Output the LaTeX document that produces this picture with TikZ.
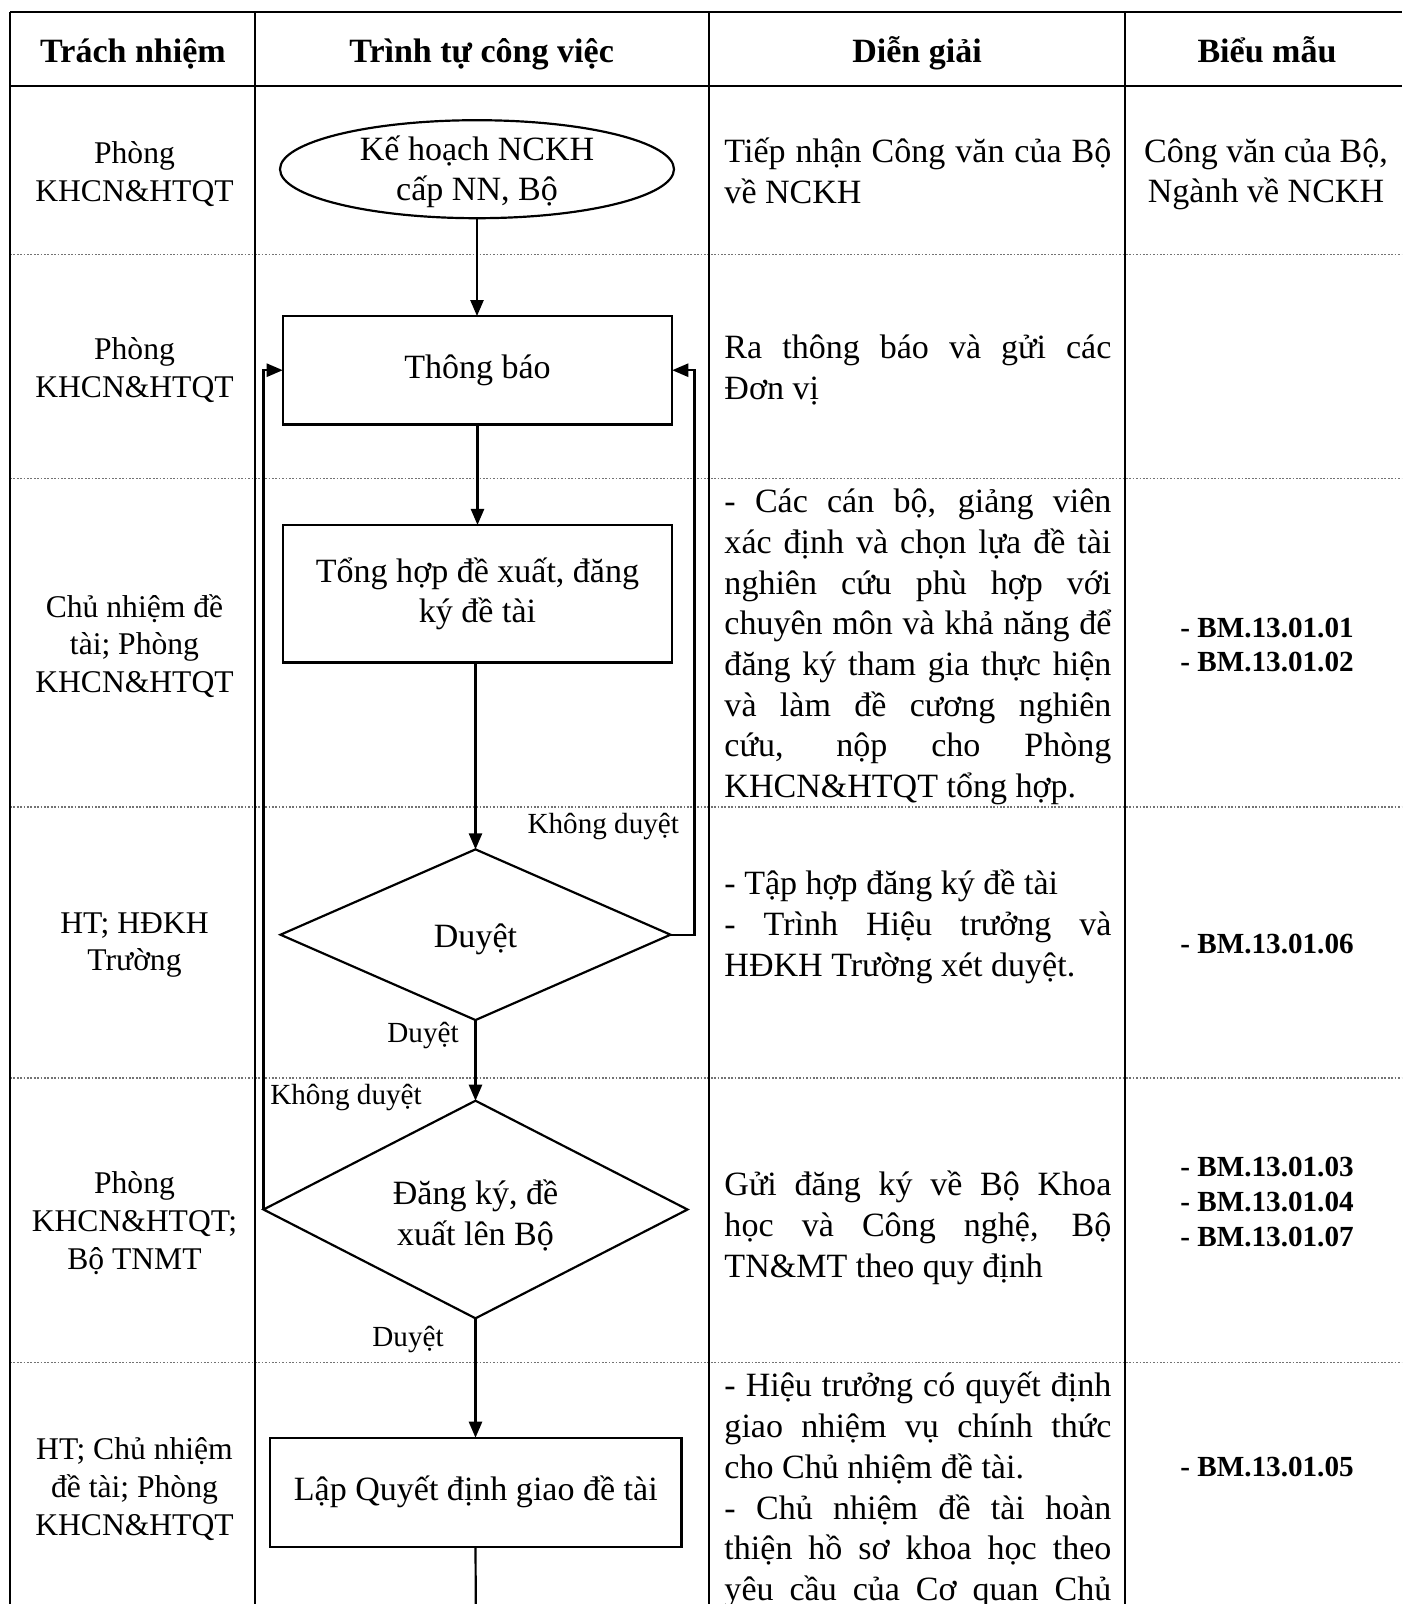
\documentclass[tikz,border=0pt]{standalone}
\usepackage{fontspec}
\setmainfont{Liberation Serif}
\usetikzlibrary{shapes.geometric,arrows.meta}
\newlength\dgw
\setlength\dgw{159.2pt}
\newcommand\jl[1]{\makebox[\dgw][s]{#1}}
\begin{document}
\begin{tikzpicture}[x=0.4115pt,y=-0.4115pt,
  tline/.style={line width=1.1pt},
  sepline/.style={line width=0.6pt, black!55, dash pattern=on 0.7pt off 0.7pt},
  hdr/.style={font=\fontsize{14}{17}\selectfont\bfseries, inner sep=0pt, anchor=base},
  resp/.style={align=center, font=\fontsize{13}{15.5}\selectfont, inner sep=0pt},
  desc/.style={align=left, font=\fontsize{14}{16.75}\selectfont, inner sep=0pt, anchor=west},
  form/.style={align=left, font=\fontsize{12}{14.3}\selectfont\bfseries, inner sep=0pt},
  formc/.style={align=center, font=\fontsize{14}{16.5}\selectfont, inner sep=0pt},
  flowtext/.style={align=center, font=\fontsize{14}{16.5}\selectfont, inner sep=0pt},
  procbox/.style={draw, line width=1pt, rectangle, outer sep=0pt, flowtext},
  decision/.style={draw, line width=0.9pt, diamond, aspect=2, outer sep=0pt, inner sep=0pt},
  startnode/.style={draw, line width=0.9pt, ellipse, outer sep=0pt, inner sep=0pt},
  arr/.style={line width=0.9pt, -{Triangle[length=6.6pt,width=5.4pt]}},
  conn/.style={line width=0.9pt},
  lbl/.style={font=\fontsize{12}{14}\selectfont, inner sep=0pt}
]
\useasboundingbox (0,0) rectangle (1402,1604);
\fill[white] (0,0) rectangle (1402,1604);
\clip (0,0) rectangle (1402,1604);

% table
\foreach \yy in {254.5,478.5,807,1078,1362.5}
  \draw[sepline] (10,\yy) -- (1402,\yy);
\draw[tline] (10,12) -- (1402,12);
\draw[tline] (10,86) -- (1402,86);
\draw[tline] (10,12) -- (10,1604);
\foreach \xx in {255,709,1125}
  \draw[tline] (\xx,12) -- (\xx,1604);

% headers
\node[hdr] (h1) at (133,62.5) {Trách nhiệm};
\node[hdr] (h2) at (481.6,62.5) {Trình tự công việc};
\node[hdr] (h3) at (917,62.5) {Diễn giải};
\node[hdr] (h4) at (1267,62.5) {Biểu mẫu};

% column 1
\node[resp] (r1) at (134.5,174) {Phòng\\KHCN\&HTQT};
\node[resp] (r2) at (134.5,370) {Phòng\\KHCN\&HTQT};
\node[resp] (r3) at (134.5,646) {Chủ nhiệm đề\\tài; Phòng\\KHCN\&HTQT};
\node[resp] (r4) at (134.5,945) {HT; HĐKH\\Trường};
\node[resp] (r5) at (134.5,1223) {Phòng\\KHCN\&HTQT;\\Bộ TNMT};
\node[resp] (r6) at (134.5,1489) {HT; Chủ nhiệm\\đề tài; Phòng\\KHCN\&HTQT};

% column 3
\node[desc] (d1) at (724,171) {\jl{Tiếp nhận Công văn của Bộ}\\về NCKH};
\node[desc] (d2) at (724,370) {\jl{Ra thông báo và gửi các}\\Đơn vị};
\node[desc] (d3) at (724,647) {\jl{- Các cán bộ, giảng viên}\\\jl{xác định và chọn lựa đề tài}\\\jl{nghiên cứu phù hợp với}\\\jl{chuyên môn và khả năng để}\\\jl{đăng ký tham gia thực hiện}\\\jl{và làm đề cương nghiên}\\\jl{cứu, nộp cho Phòng}\\KHCN\&HTQT tổng hợp.};
\node[desc] (d4) at (724,927) {- Tập hợp đăng ký đề tài\\\jl{- Trình Hiệu trưởng và}\\HĐKH Trường xét duyệt.};
\node[desc] (d5) at (724,1228) {\jl{Gửi đăng ký về Bộ Khoa}\\\jl{học và Công nghệ, Bộ}\\TN\&MT theo quy định};
\node[desc] (d6) at (724,1490) {\jl{- Hiệu trưởng có quyết định}\\\jl{giao nhiệm vụ chính thức}\\cho Chủ nhiệm đề tài.\\\jl{- Chủ nhiệm đề tài hoàn}\\\jl{thiện hồ sơ khoa học theo}\\\jl{yêu cầu của Cơ quan Chủ}};

% column 4
\node[formc] (f1) at (1266,174) {Công văn của Bộ,\\Ngành về NCKH};
\node[form] (f3) at (1267,645) {- BM.13.01.01\\- BM.13.01.02};
\node[form] (f4) at (1267,944) {- BM.13.01.06};
\node[form] (f5) at (1267,1202) {- BM.13.01.03\\- BM.13.01.04\\- BM.13.01.07};
\node[form] (f6) at (1267,1467) {- BM.13.01.05};

% flow
\node[startnode, minimum width={394*0.4115pt}, minimum height={98*0.4115pt}] (E) at (477,169.2) {};
\node[flowtext] (Et) at (477,172) {Kế hoạch NCKH\\cấp NN, Bộ};
\node[procbox, minimum width={389.5*0.4115pt}, minimum height={108.3*0.4115pt}] (T) at (477.5,370.2) {Thông báo};
\node[procbox, minimum width={389.5*0.4115pt}, minimum height={137.7*0.4115pt}] (S) at (477.5,593.8) {\raisebox{-3pt}[\height][\depth]{}Tổng hợp đề xuất, đăng\\ký đề tài};
\node[decision, minimum width={390*0.4115pt}, minimum height={170.7*0.4115pt}] (D1) at (475.5,934.7) {};
\node[flowtext] (D1t) at (475.5,939) {Duyệt};
\node[decision, minimum width={424*0.4115pt}, minimum height={217.6*0.4115pt}] (D2) at (475.5,1209.5) {};
\node[flowtext] (D2t) at (475.5,1215.5) {Đăng ký, đề\\xuất lên Bộ};
\node[procbox, minimum width={411.6*0.4115pt}, minimum height={109*0.4115pt}] (L) at (475.8,1492.2) {Lập Quyết định giao đề tài};
\coordinate (Lend) at (475.8,1604);

\draw[arr] (E.south) -- (E.south |- T.north);
\draw[arr] (T.south) -- (S.north);
\draw[arr] (S.south -| D1.north) -- (D1.north);
\draw[arr] (D1.south) -- (D2.north);
\draw[arr] (D2.south) -- (D2.south |- L.north);
\draw[conn] (D2.south |- L.south) -- (Lend);
\draw[arr] (D1.east) -- ++(24,0) |- (T.east);
\draw[arr] (D2.west) |- (T.west);

\node[lbl] (l1) at (603.3,826) {Không duyệt};
\node[lbl] (l2) at (423,1035) {Duyệt};
\node[lbl] (l3) at (346,1097) {Không duyệt};
\node[lbl] (l4) at (408,1339) {Duyệt};
\end{tikzpicture}
\end{document}
